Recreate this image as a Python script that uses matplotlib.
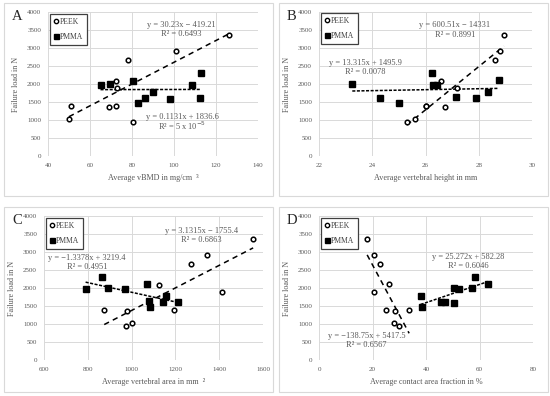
import matplotlib
matplotlib.use("Agg")
import matplotlib.pyplot as plt
import numpy as np
from matplotlib.patches import Rectangle
from matplotlib.lines import Line2D

plt.rcParams['font.family'] = ['Liberation Serif', 'DejaVu Serif']

# failure loads (N)
# Panel A: vBMD
a_peek_x = [50, 51, 69, 72.5, 72.5, 73, 78, 80.5, 101, 126]
a_peek_y = [1030, 1400, 1370, 1400, 2090, 1890, 2670, 950, 2920, 3350]
a_pmma_x = [65, 69.5, 80.5, 83, 86, 90, 98, 108.5, 112.5, 113]
a_pmma_y = [1970, 2000, 2090, 1470, 1600, 1780, 1590, 1970, 1620, 2300]
# Panel B: vertebral height
b_peek_x = [25.3, 25.6, 26.0, 26.0, 26.6, 26.75, 27.2, 28.6, 28.8, 28.95]
b_peek_y = [950, 1030, 1400, 1380, 2090, 1370, 1890, 2680, 2920, 3360]
b_pmma_x = [23.25, 24.3, 25.0, 26.25, 26.3, 26.45, 27.15, 27.9, 28.35, 28.75]
b_pmma_y = [2010, 1600, 1470, 2300, 1970, 1980, 1630, 1600, 1790, 2100]
# Panel C: vertebral area
c_peek_x = [875, 975, 980, 1000, 1125, 1195, 1270, 1345, 1415, 1555]
c_peek_y = [1390, 950, 1360, 1030, 2090, 1390, 2670, 2920, 1890, 3350]
c_pmma_x = [790, 865, 893, 970, 1070, 1078, 1082, 1145, 1157, 1213]
c_pmma_y = [1970, 2300, 2010, 1980, 2100, 1630, 1470, 1600, 1780, 1600]
# Panel D: contact area fraction
d_peek_x = [18, 20.5, 20.5, 22.8, 26.2, 25, 28.3, 28.2, 30, 33.7]
d_peek_y = [3360, 2920, 1890, 2680, 2100, 1400, 1370, 1030, 950, 1400]
d_pmma_x = [38, 38.5, 45.5, 47, 50.5, 52.5, 50.5, 57.2, 58.2, 63.2]
d_pmma_y = [1790, 1480, 1600, 1610, 1990, 1970, 1590, 2010, 2300, 2100]

# trendline coefficients (slope, intercept) as printed
a_peek_fit = (30.23, -419.21)
a_pmma_fit = (0.1131, 1836.6)
b_peek_fit = (600.51, -14331)
b_pmma_fit = (13.315, 1495.9)
c_peek_fit = (3.1315, -1755.4)
c_pmma_fit = (-1.3378, 3219.4)
d_peek_fit = (-138.75, 5417.5)
d_pmma_fit = (25.272, 582.28)

a_peek_eq = ["y = 30.23x \u2212 419.21", "R\u00b2 = 0.6493"]
a_pmma_eq = ["y = 0.1131x + 1836.6", "R\u00b2 = 5 x 10$^{\u22125}$"]
b_peek_eq = ["y = 600.51x \u2212 14331", "R\u00b2 = 0.8991"]
b_pmma_eq = ["y = 13.315x + 1495.9", "R\u00b2 = 0.0078"]
c_peek_eq = ["y = 3.1315x \u2212 1755.4", "R\u00b2 = 0.6863"]
c_pmma_eq = ["y = \u22121.3378x + 3219.4", "R\u00b2 = 0.4951"]
d_peek_eq = ["y = \u2212138.75x + 5417.5", "R\u00b2 = 0.6567"]
d_pmma_eq = ["y = 25.272x + 582.28", "R\u00b2 = 0.6046"]

y_ticks = [0, 500, 1000, 1500, 2000, 2500, 3000, 3500, 4000]
a_xticks = [40, 60, 80, 100, 120, 140]
b_xticks = [22, 24, 26, 28, 30]
c_xticks = [600, 800, 1000, 1200, 1400, 1600]
d_xticks = [0, 20, 40, 60, 80]

W, H = 550, 396
fig = plt.figure(figsize=(W / 100, H / 100), dpi=100)

GRAY = '#595959'
GRID = '#d9d9d9'
TICK_FS = 5.0
LABEL_FS = 5.9
EQ_FS = 6.0
LEG_FS = 5.5


def px_axes(l, t, r, b):
    return fig.add_axes([l / W, 1 - b / H, (r - l) / W, (b - t) / H])


panels = [
    dict(box=(48, 12, 258, 156), frame=(4, 3, 273, 196), letter='A',
         px=a_peek_x, py=a_peek_y, mx=a_pmma_x, my=a_pmma_y,
         pf=a_peek_fit, mf=a_pmma_fit, pe=a_peek_eq, me=a_pmma_eq,
         pepos=(103.5, 3640, 3390), mepos=(104, 1083, 833),
         xt=a_xticks, xlabel='Average vBMD in mg/cm  \u00b3',
         leg=(50, 14)),
    dict(box=(319, 12, 532, 156), frame=(279, 3, 548, 196), letter='B',
         px=b_peek_x, py=b_peek_y, mx=b_pmma_x, my=b_pmma_y,
         pf=b_peek_fit, mf=b_pmma_fit, pe=b_peek_eq, me=b_pmma_eq,
         pepos=(27.1, 3640, 3360), mepos=(23.75, 2583, 2333),
         xt=b_xticks, xlabel='Average vertebral height in mm',
         leg=(321, 13)),
    dict(box=(44, 216, 263, 360), frame=(4, 207, 273, 392), letter='C',
         px=c_peek_x, py=c_peek_y, mx=c_pmma_x, my=c_pmma_y,
         pf=c_peek_fit, mf=c_pmma_fit, pe=c_peek_eq, me=c_pmma_eq,
         pepos=(1318, 3583, 3333), mepos=(797, 2833, 2583),
         xt=c_xticks, xlabel='Average vertebral area in mm  \u00b2',
         leg=(46, 218)),
    dict(box=(319, 216, 533, 360), frame=(279, 207, 548, 392), letter='D',
         px=d_peek_x, py=d_peek_y, mx=d_pmma_x, my=d_pmma_y,
         pf=d_peek_fit, mf=d_pmma_fit, pe=d_peek_eq, me=d_pmma_eq,
         pepos=(17.7, 667, 417), mepos=(55.8, 2861, 2611),
         xt=d_xticks, xlabel='Average contact area fraction in %',
         leg=(321, 218)),
]

for p in panels:
    fl, ft, fr, fb = p['frame']
    fig.patches.append(Rectangle((fl / W, 1 - fb / H), (fr - fl) / W, (fb - ft) / H,
                                 transform=fig.transFigure, fill=False,
                                 edgecolor='#d9d9d9', linewidth=0.8))
    l, t, r, b = p['box']
    ax = px_axes(l, t, r, b)
    xt = p['xt']
    ax.set_xlim(xt[0], xt[-1])
    ax.set_ylim(0, 4000)
    ax.set_xticks(xt)
    ax.set_yticks(y_ticks)
    ax.grid(True, color=GRID, linewidth=0.7)
    ax.set_axisbelow(True)
    for s in ax.spines.values():
        s.set_visible(False)
    ax.tick_params(axis='y', length=0, labelsize=TICK_FS, colors=GRAY, pad=5)
    ax.tick_params(axis='x', length=0, labelsize=TICK_FS, colors=GRAY, pad=5)
    ax.set_xlabel(p['xlabel'], fontsize=LABEL_FS, color=GRAY, labelpad=4)
    ax.set_ylabel('Failure load in N', fontsize=LABEL_FS, color=GRAY, labelpad=5)

    ax.plot(p['px'], p['py'], 'o', ms=3.3, mfc='white', mec='black', mew=1.1,
            linestyle='none', zorder=4)
    ax.plot(p['mx'], p['my'], 's', ms=3.7, mfc='black', mec='black',
            linestyle='none', zorder=4)

    xs = np.array([min(p['px']), max(p['px'])])
    ax.plot(xs, p['pf'][0] * xs + p['pf'][1], color='black', lw=1.1,
            dashes=(3.5, 2.8), zorder=3)
    xs = np.array([min(p['mx']), max(p['mx'])])
    ax.plot(xs, p['mf'][0] * xs + p['mf'][1], color='black', lw=1.1,
            dashes=(2.0, 1.0), zorder=3)

    ex, ey1, ey2 = p['pepos']
    ax.text(ex, ey1, p['pe'][0], ha='center', va='center', fontsize=EQ_FS, color=GRAY)
    ax.text(ex, ey2, p['pe'][1], ha='center', va='center', fontsize=EQ_FS, color=GRAY)
    ex, ey1, ey2 = p['mepos']
    ax.text(ex, ey1, p['me'][0], ha='center', va='center', fontsize=EQ_FS, color=GRAY)
    ax.text(ex, ey2, p['me'][1], ha='center', va='center', fontsize=EQ_FS, color=GRAY)

    # panel letter
    fig.text((fl + 8) / W, 1 - (ft + 13) / H, p['letter'], fontsize=10.5,
             ha='left', va='center', color='#262626')

    # legend
    lx, ly = p['leg']
    handles = [Line2D([], [], marker='o', ms=3.1, mfc='white', mec='black', mew=1.0, ls='none'),
               Line2D([], [], marker='s', ms=3.6, mfc='black', mec='black', ls='none')]
    leg = fig.legend(handles, ['PEEK', 'PMMA'], loc='upper left',
                     bbox_to_anchor=(lx / W, 1 - ly / H), frameon=True,
                     fancybox=False, edgecolor='#404040', framealpha=1,
                     fontsize=LEG_FS, handlelength=0.5, handletextpad=0.3,
                     borderpad=0.5, labelspacing=0.9, borderaxespad=0,
                     labelcolor='#404040')
    leg.get_frame().set_linewidth(0.9)

fig.savefig('out.png', dpi=100)
